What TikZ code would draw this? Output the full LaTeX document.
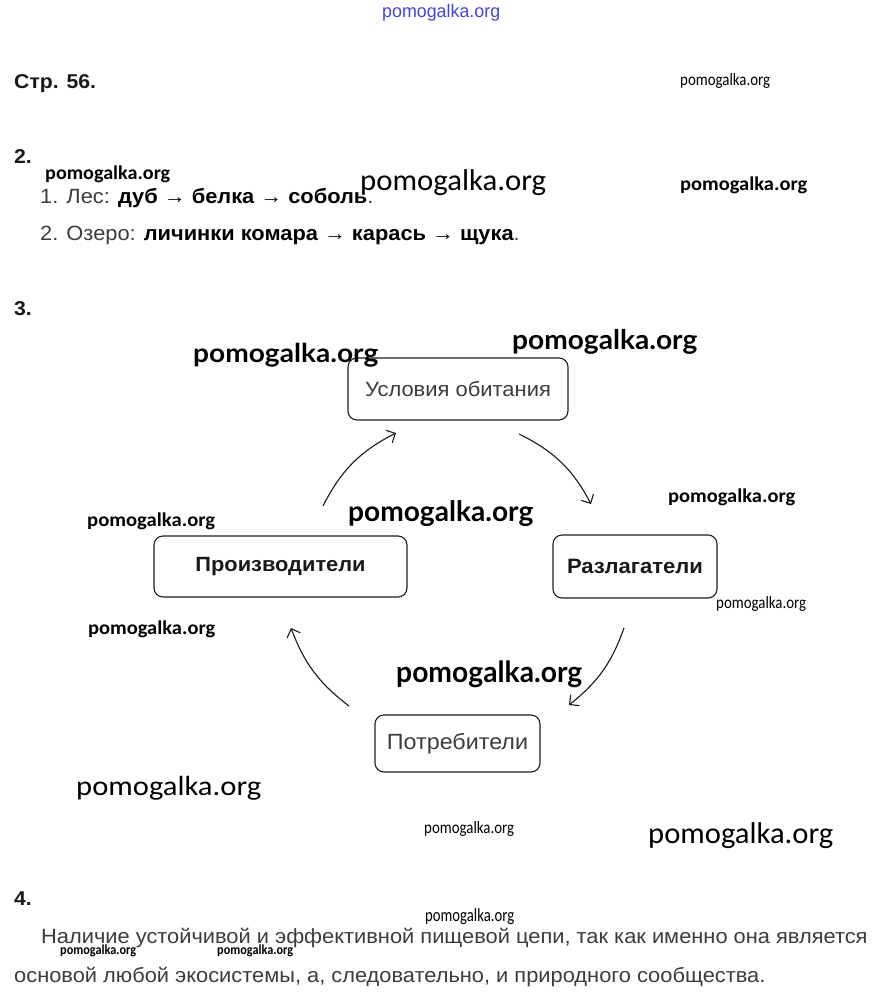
\documentclass[tikz,border=0pt]{standalone}
\usepackage{fontspec}
\setmainfont{Liberation Sans}[FakeStretch=1.06]
\newfontfamily\wmc{Carlito}
\newfontfamily\wml{Lato}
\usetikzlibrary{arrows.meta}
\definecolor{txtgray}{RGB}{60,60,60}
\definecolor{wmblue}{RGB}{70,70,215}
\newcommand\blk[1]{{\bfseries\color{black}#1}}
\newcommand\wmark[6]{\node[wm] (#1) at (#2,#3) {\resizebox*{#4pt}{#5pt}{#6pomogalka.org}};}
\tikzset{
  box/.style={draw=black!88, line width=1.1pt, rounded corners=9pt, inner sep=0pt},
  cyc/.style={line width=1.1pt, black!90, -{Straight Barb[length=7pt,width=14pt]}},
  txt/.style={anchor=base west, inner sep=0pt, text=txtgray, font=\fontsize{20.6}{24}\selectfont},
  hd/.style={anchor=base west, inner sep=0pt, text=black!90, font=\bfseries\fontsize{20}{24}\selectfont},
  wm/.style={anchor=north west, inner sep=0pt, text=black}
}
\begin{document}
\begin{tikzpicture}[x=1pt,y=-1pt]
\useasboundingbox (0,0) rectangle (880,1002);
\fill[white] (0,0) rectangle (880,1002);

% headings
\node[hd] (str) at (14,88) {Стр. 56.};
\node[hd] (q2) at (14,163) {2.};
\node[hd] (q3) at (14,315) {3.};
\node[hd] (q4) at (14,905) {4.};

% task 2
\node[txt] (c1) at (40,203) {1. Лес: \blk{дуб → белка → соболь}.};
\node[txt] (c2) at (40,240) {2. Озеро: \blk{личинки комара → карась → щука}.};

% task 3 diagram
\node[box, minimum width=220pt, minimum height=62pt, text=txtgray,
      font=\fontsize{20.7}{24}\selectfont] (hab) at (458,389) {Условия обитания};
\node[box, minimum width=253pt, minimum height=61pt, text=black!90,
      font=\bfseries\fontsize{20.6}{24}\selectfont] (prod) at (280.5,566.5) {Производители};
\node[box, minimum width=164pt, minimum height=63pt, text=black!90,
      font=\bfseries\fontsize{20.8}{24}\selectfont] (dec) at (635,566.5) {Разлагатели};
\node[box, minimum width=165pt, minimum height=57pt, text=txtgray,
      font=\fontsize{22}{26}\selectfont] (cons) at (457.5,743.5) {Потребители};

\coordinate (a1s) at (323,506); \coordinate (a1e) at (396,433);
\coordinate (a2s) at (519,434); \coordinate (a2e) at (591,504);
\coordinate (a3s) at (624,628); \coordinate (a3e) at (569,705);
\coordinate (a4s) at (349,706); \coordinate (a4e) at (291,628);
\draw[cyc] (a1s) to[bend left=18] (a1e);
\draw[cyc] (a2s) to[bend left=18] (a2e);
\draw[cyc] (a3s) to[bend left=16] (a3e);
\draw[cyc] (a4s) to[bend left=16] (a4e);

% task 4
\node[txt] (l1) at (41,943) {Наличие устойчивой и эффективной пищевой цепи, так как именно она является};
\node[txt] (l2) at (14,982) {основой любой экосистемы, а, следовательно, и природного сообщества.};

% watermarks
\wmark{w1}{382}{4}{118}{17}{\color{wmblue}}
\wmark{w2}{680}{73}{90}{15}{\wmc}
\wmark{w3}{45}{166}{125}{17}{\wmc\bfseries}
\wmark{w4}{360}{169}{186}{26}{\wmc}
\wmark{w5}{680}{177}{127}{17}{\wmc\bfseries}
\wmark{w6}{193}{343}{185}{24}{\wml\bfseries}
\wmark{w7}{512}{329}{185}{25}{\wml\bfseries}
\wmark{w8}{87}{513}{128}{17}{\wmc\bfseries}
\wmark{w9}{668}{489}{127}{17}{\wmc\bfseries}
\wmark{w10}{348}{500}{185}{26}{\wml\bfseries}
\wmark{w11}{716}{596}{90}{15}{\wmc}
\wmark{w12}{88}{621}{127}{17}{\wmc\bfseries}
\wmark{w13}{396}{661}{186}{27}{\wml\bfseries}
\wmark{w14}{76}{776}{185}{24}{\wmc}
\wmark{w15}{424}{821}{90}{15}{\wmc}
\wmark{w16}{648}{822}{185}{26}{\wmc}
\wmark{w17}{425}{908}{89}{16}{\wmc}
\wmark{w18}{60}{945}{76}{12}{\wmc\bfseries}
\wmark{w19}{217}{945}{76}{12}{\wmc\bfseries}
\end{tikzpicture}
\end{document}
